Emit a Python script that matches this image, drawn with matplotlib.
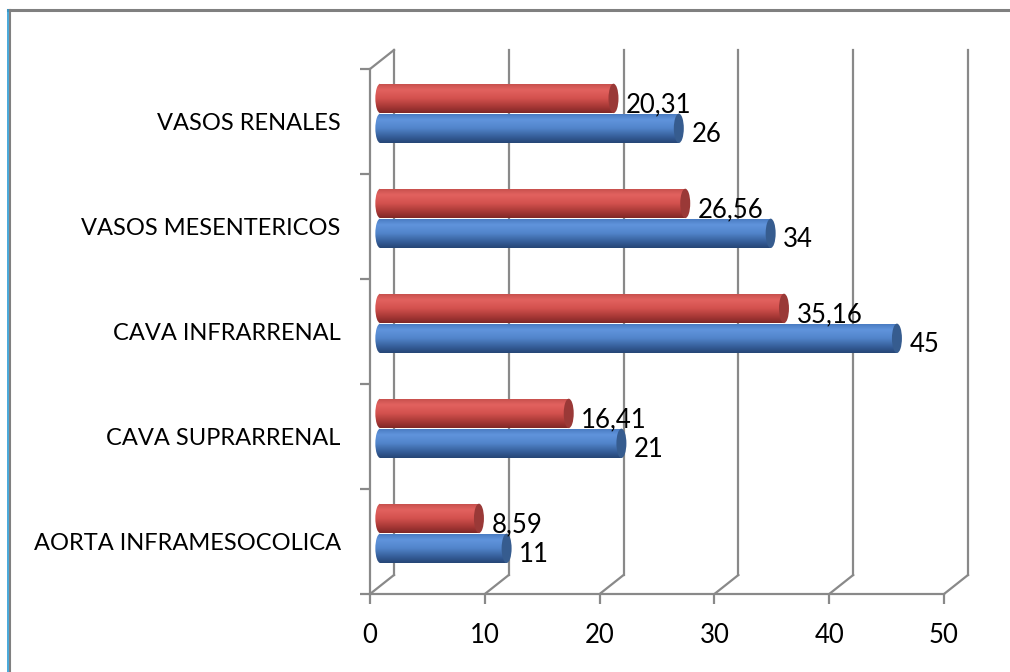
import numpy as np
import matplotlib
matplotlib.use("Agg")
import matplotlib.pyplot as plt
from matplotlib.patches import Ellipse
from matplotlib.lines import Line2D

plt.rcParams['font.family'] = ['Lato', 'DejaVu Sans']

categories = ["AORTA INFRAMESOCOLICA", "CAVA SUPRARRENAL", "CAVA INFRARRENAL",
              "VASOS MESENTERICOS", "VASOS RENALES"]
blue_vals = [11, 21, 45, 34, 26]
red_vals = [8.59, 16.41, 35.16, 26.56, 20.31]
x_ticks = [0, 10, 20, 30, 40, 50]

W, H = 1010, 672
fig = plt.figure(figsize=(W / 100, H / 100), dpi=100)
ax = fig.add_axes([370 / W, (H - 594) / H, 574 / W, 525 / H])
ax.set_xlim(0, 50)
ax.set_ylim(0, 5)

grey = "#898989"
dx, dy = 2.09, 0.181     # depth offset of the back wall (data units)
x0 = 0.9                 # bars sit half way in depth
cap_w = 0.87             # end cap width in data units
bh = 0.28


def gradient(stops):
    pos = np.linspace(0, 1, 64)
    ps = [s[0] for s in stops]
    rgb = np.array([s[1] for s in stops]) / 255.0
    g = np.stack([np.interp(pos, ps, rgb[:, k]) for k in range(3)], axis=1)
    return g[:, None, :]


red_grad = gradient([(0, (196, 78, 75)), (0.22, (226, 98, 95)), (0.5, (212, 82, 79)),
                     (0.8, (165, 55, 53)), (1, (128, 40, 39))])
blue_grad = gradient([(0, (70, 120, 190)), (0.22, (96, 148, 220)), (0.5, (82, 133, 203)),
                      (0.8, (53, 93, 152)), (1, (38, 70, 118))])
red_cap = "#9a3937"
blue_cap = "#365c8f"


def cylinders(yc, vals, grad, capc):
    bars = ax.barh(yc, vals, height=bh, left=x0, color="none", zorder=3)
    for b, v in zip(bars, vals):
        y0 = b.get_y()
        im = ax.imshow(grad, extent=(x0, x0 + v, y0, y0 + bh), aspect="auto",
                       zorder=3, interpolation="bilinear")
        im.set_clip_path(b)
        left = Ellipse((x0, y0 + bh / 2), cap_w, bh, facecolor="none", edgecolor="none", zorder=3)
        ax.add_patch(left)
        im2 = ax.imshow(grad, extent=(x0 - cap_w / 2, x0, y0, y0 + bh), aspect="auto",
                        zorder=3, interpolation="bilinear")
        im2.set_clip_path(left)
        ax.add_patch(Ellipse((x0 + v, y0 + bh / 2), cap_w, bh, facecolor=capc,
                             edgecolor="none", zorder=4))
    return bars


ypos = np.arange(len(categories))
cylinders(ypos + 0.72, red_vals, red_grad, red_cap)
cylinders(ypos + 0.435, blue_vals, blue_grad, blue_cap)

for i in range(len(categories)):
    ax.text(x0 + red_vals[i] + 1.1, i + 0.59, f"{red_vals[i]:.2f}".replace(".", ","),
            fontsize=18.5, va="baseline", ha="left", zorder=5)
    ax.text(x0 + blue_vals[i] + 1.1, i + 0.305, f"{blue_vals[i]}",
            fontsize=18.5, va="baseline", ha="left", zorder=5)

# 3D frame: back wall grid lines, floor and left wall
for v in x_ticks:
    ax.plot([v + dx, v + dx], [dy, 5 + dy], color=grey, lw=1.6, clip_on=False, zorder=1)
    ax.plot([v, v + dx], [0, dy], color=grey, lw=1.6, clip_on=False, zorder=1)
ax.plot([0, dx], [5, 5 + dy], color=grey, lw=1.6, clip_on=False, zorder=1)

for s in ["top", "right"]:
    ax.spines[s].set_visible(False)
for s in ["left", "bottom"]:
    ax.spines[s].set_color(grey)
    ax.spines[s].set_linewidth(1.6)
    ax.spines[s].set_zorder(1)

ax.set_xticks(x_ticks)
ax.set_xticklabels([str(t) for t in x_ticks], fontsize=18.5)
ax.tick_params(axis="x", direction="out", length=7.2, width=1.6, color=grey, pad=14)
ax.set_yticks(np.arange(6))
ax.set_yticklabels([])
ax.set_yticks(ypos + 0.5, minor=True)
ax.set_yticklabels(categories, minor=True, fontsize=17)
ax.tick_params(axis="y", which="major", direction="out", length=7.2, width=1.6, color=grey)
ax.tick_params(axis="y", which="minor", length=0, pad=21)

# outer border of the chart area
fig.add_artist(Line2D([8 / W, 1], [1 - 9.5 / H, 1 - 9.5 / H], color="#808080", lw=2.2))
fig.add_artist(Line2D([10 / W, 10 / W], [0, 1 - 9.5 / H], color="#808080", lw=1.5))
fig.add_artist(Line2D([7.5 / W, 7.5 / W], [0, 1 - 9.5 / H], color="#2a9bd4", lw=1.2))

fig.savefig("out.png", dpi=100)
